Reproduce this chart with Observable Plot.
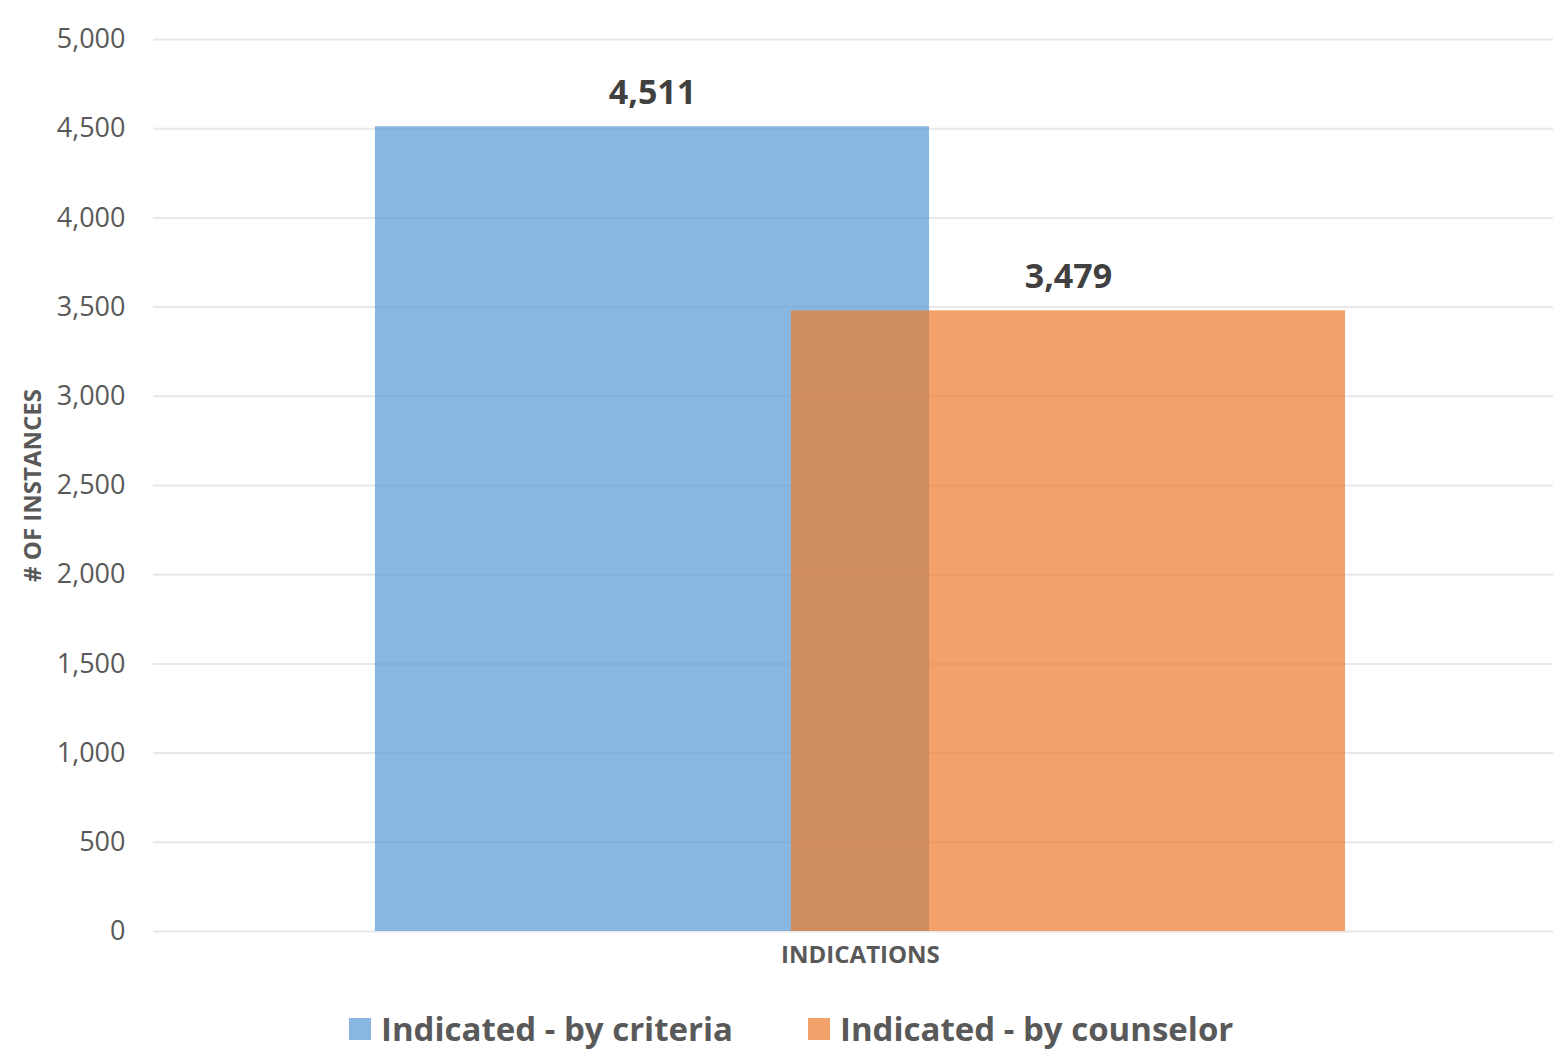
<!DOCTYPE html>
<html>
<head>
<meta charset="utf-8">
<script src="https://cdn.jsdelivr.net/npm/d3@7"></script>
<script src="https://cdn.jsdelivr.net/npm/@observablehq/plot@0.6"></script>
<style>
  html, body { margin: 0; padding: 0; background: #fff; }
  #chart { width: 1553px; height: 1052px; overflow: hidden; position: relative; }
  .legend { display: flex; justify-content: flex-start; gap: 75px; padding-left: 349px; margin-top: 24px;
    line-height: 40px; height: 40px;
    font-family: "Open Sans", sans-serif; font-weight: bold; font-size: 33px; color: #595959; }
  .legend span.item { display: flex; align-items: center; gap: 10px; white-space: nowrap; }
  .legend span.sw { width: 22px; height: 22px; display: inline-block; }
</style>
</head>
<body>
<div id="chart"></div>
<script>
const categories = ["INDICATIONS"];
const series = ["Indicated - by criteria", "Indicated - by counselor"];
const values = [4511, 3479];
const seriesColors = ["#5B9BD5", "#ED7D31"];
const yTicks = [0, 500, 1000, 1500, 2000, 2500, 3000, 3500, 4000, 4500, 5000];
const yLabel = "# OF INSTANCES";

const barWidth = 1.332;  // in series-index units (bars overlap)
const data = series.map((s, i) => ({series: s, idx: i, value: values[i], category: categories[0]}));

const font = "'Open Sans', sans-serif";

const plot = Plot.plot({
  width: 1553,
  height: 985,
  marginLeft: 153,
  marginRight: 0,
  marginTop: 39,
  marginBottom: 54,
  style: {fontFamily: font, background: "#fff"},
  x: {type: "linear", domain: [-1.1995, 2.166], axis: null},
  y: {domain: [0, 5000], ticks: yTicks, label: null},
  color: {domain: series, range: seriesColors},
  marks: [
    Plot.gridY(yTicks, {stroke: "#e8e8e8", strokeOpacity: 1, strokeWidth: 2}),
    Plot.axisY(yTicks, {tickSize: 0, tickPadding: 28, tickFormat: d3.format(","), fontSize: 27, fill: "#595959", label: null}),
    Plot.rectY(data, {
      x1: d => d.idx - barWidth / 2,
      x2: d => d.idx + barWidth / 2,
      y1: 0, y2: "value",
      fill: "series", fillOpacity: 0.72
    }),
    Plot.text(data, {
      x: "idx", y: "value", text: d => d3.format(",")(d.value),
      dy: -34, fontSize: 34, fontWeight: "bold", fill: "#404040", fontFamily: font
    }),
    Plot.text(categories, {
      x: () => (series.length - 1) / 2, y: 0, text: d => d,
      dy: 24, fontSize: 24, fontWeight: "bold", fill: "#595959", fontFamily: font
    }),
    Plot.text([yLabel], {
      frameAnchor: "left", textAnchor: "middle", text: d => d, rotate: -90, dx: -120,
      fontSize: 24, fontWeight: "bold", fill: "#595959", fontFamily: font
    })
  ]
});
document.getElementById("chart").appendChild(plot);

const legend = document.createElement("div");
legend.className = "legend";
series.forEach((s, i) => {
  const item = document.createElement("span");
  item.className = "item";
  const sw = document.createElement("span");
  sw.className = "sw";
  sw.style.background = seriesColors[i];
  sw.style.opacity = 0.72;
  item.appendChild(sw);
  item.appendChild(document.createTextNode(s));
  legend.appendChild(item);
});
document.getElementById("chart").appendChild(legend);
</script>
</body>
</html>
